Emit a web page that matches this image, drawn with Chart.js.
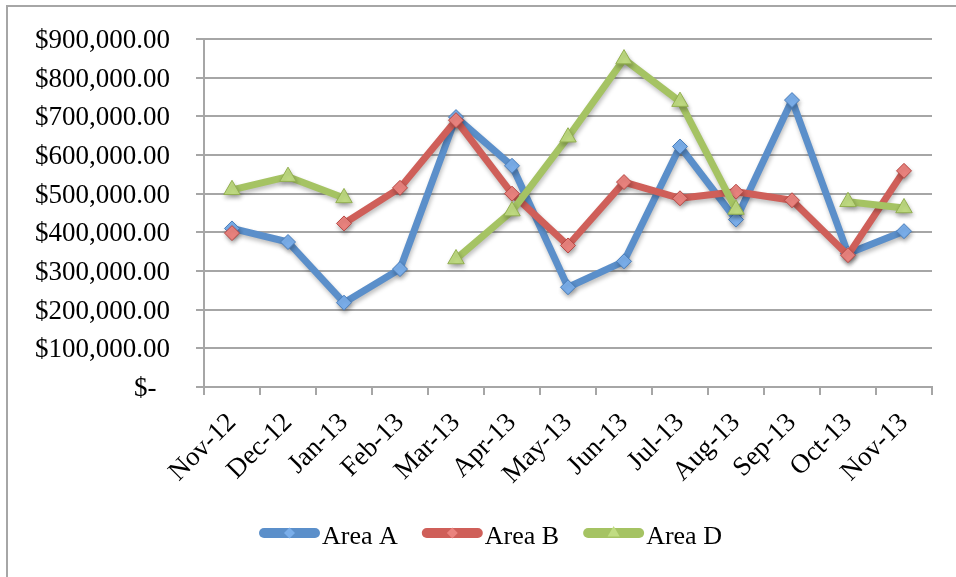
<!DOCTYPE html>
<html>
<head>
<meta charset="utf-8">
<script src="https://cdn.jsdelivr.net/npm/chart.js@4/dist/chart.umd.min.js"></script>
<style>
  html, body { margin: 0; padding: 0; background: #fff; }
  canvas { display: block; }
</style>
</head>
<body>
<canvas id="chart" width="956" height="577"></canvas>
<script>
// Monthly totals per area
const months = ['Nov-12', 'Dec-12', 'Jan-13', 'Feb-13', 'Mar-13', 'Apr-13', 'May-13',
                'Jun-13', 'Jul-13', 'Aug-13', 'Sep-13', 'Oct-13', 'Nov-13'];
const areaA = [410000, 375000, 218000, 305000, 698000, 572000, 258000, 325000, 622000, 433000, 742000, 345000, 403000];
const areaB = [398000, null, 423000, 515000, 690000, 500000, 366000, 530000, 488000, 505000, 483000, 341000, 559000];
const areaD = [510000, 544000, 489000, null, 331000, 455000, 646000, 848000, 738000, 459000, null, 479000, 463000];
const seriesNames = ['Area A', 'Area B', 'Area D'];

const FONT = "'Liberation Serif', 'Times New Roman', serif";
const GRID = '#a6a6a6';

const styles = [
  { line: '#5b8fca', fill: '#7aaeea', edge: '#4a7ebb', shape: 'rectRot', r: 7.5, legendR: 5.5 },
  { line: '#cf5f59', fill: '#ea837e', edge: '#b84a46', shape: 'rectRot', r: 7.5, legendR: 5.5 },
  { line: '#a5c363', fill: '#c0dc82', edge: '#93b050', shape: 'triangle', r: 9.5, legendR: 7 }
];

function money(v) {
  if (v === 0) return '$-  ';
  return '$' + v.toLocaleString('en-US', { minimumFractionDigits: 2, maximumFractionDigits: 2 });
}

// Outer frame of the chart object
const framePlugin = {
  id: 'frame',
  beforeDraw(chart) {
    const ctx = chart.ctx;
    ctx.save();
    ctx.fillStyle = '#fff';
    ctx.fillRect(0, 0, chart.width, chart.height);
    ctx.strokeStyle = GRID;
    ctx.lineWidth = 2;
    ctx.beginPath();
    ctx.moveTo(7, chart.height);
    ctx.lineTo(7, 6);
    ctx.lineTo(chart.width, 6);
    ctx.stroke();
    ctx.restore();
  }
};

// Soft drop shadow under the series
const shadowPlugin = {
  id: 'shadow',
  beforeDatasetsDraw(chart) {
    const ctx = chart.ctx;
    ctx.save();
    ctx.shadowColor = 'rgba(0,0,0,0.25)';
    ctx.shadowBlur = 4;
    ctx.shadowOffsetX = 1;
    ctx.shadowOffsetY = 3;
  },
  afterDatasetsDraw(chart) {
    chart.ctx.restore();
  }
};

// Legend row: thick line sample with marker, then series name
const legendPlugin = {
  id: 'lineLegend',
  afterDraw(chart) {
    const ctx = chart.ctx;
    const y = 533;
    const sample = 61, gap = 2, spacing = 24;
    ctx.save();
    ctx.font = '26px ' + FONT;
    const widths = seriesNames.map(n => ctx.measureText(n).width);
    let x = 259;
    seriesNames.forEach((name, i) => {
      const s = styles[i];
      ctx.strokeStyle = s.line;
      ctx.lineWidth = 10;
      ctx.lineCap = 'round';
      ctx.beginPath();
      ctx.moveTo(x + 5, y);
      ctx.lineTo(x + sample - 5, y);
      ctx.stroke();
      ctx.fillStyle = s.fill;
      Chart.helpers.drawPoint(ctx, { pointStyle: s.shape, radius: s.legendR, rotation: 0, borderWidth: 0 }, x + sample / 2, y);
      ctx.fillStyle = '#000';
      ctx.textAlign = 'left';
      ctx.textBaseline = 'alphabetic';
      ctx.fillText(name, x + sample + gap, 544);
      x += sample + gap + widths[i] + spacing;
    });
    ctx.restore();
  }
};

function dataset(label, data, s, order) {
  return {
    label, data, order,
    borderColor: s.line,
    backgroundColor: s.fill,
    borderWidth: 7,
    borderJoinStyle: 'round',
    borderCapStyle: 'round',
    tension: 0,
    spanGaps: false,
    pointStyle: s.shape,
    pointRadius: s.r,
    pointHoverRadius: s.r,
    pointBackgroundColor: s.fill,
    pointBorderColor: s.edge,
    pointBorderWidth: 1
  };
}

new Chart(document.getElementById('chart'), {
  type: 'line',
  data: {
    labels: months,
    datasets: [
      dataset(seriesNames[0], areaA, styles[0], 3),
      dataset(seriesNames[1], areaB, styles[1], 2),
      dataset(seriesNames[2], areaD, styles[2], 1)
    ]
  },
  options: {
    responsive: false,
    animation: false,
    devicePixelRatio: 1,
    layout: { padding: { top: 39, right: 24, left: 0, bottom: 0 } },
    plugins: {
      legend: { display: false },
      tooltip: { enabled: false },
      title: { display: false }
    },
    scales: {
      x: {
        offset: true,
        grid: { offset: true, drawOnChartArea: false, drawTicks: true, tickLength: 8, color: GRID, lineWidth: 2 },
        border: { display: true, color: GRID, width: 2 },
        ticks: {
          autoSkip: false, minRotation: 45, maxRotation: 45, padding: 12,
          color: '#000', font: { family: FONT, size: 27 }
        },
        afterFit(scale) { scale.height = 190; }
      },
      y: {
        min: 0, max: 900000,
        grid: { color: GRID, lineWidth: 2, drawTicks: true, tickLength: 8 },
        border: { display: true, color: GRID, width: 2 },
        ticks: {
          stepSize: 100000, padding: 26, color: '#000', labelOffset: 2,
          font: { family: FONT, size: 27, lineHeight: 0.9 },
          callback: v => money(v)
        },
        afterFit(scale) { scale.width = 204; }
      }
    }
  },
  plugins: [framePlugin, shadowPlugin, legendPlugin]
});
</script>
</body>
</html>
